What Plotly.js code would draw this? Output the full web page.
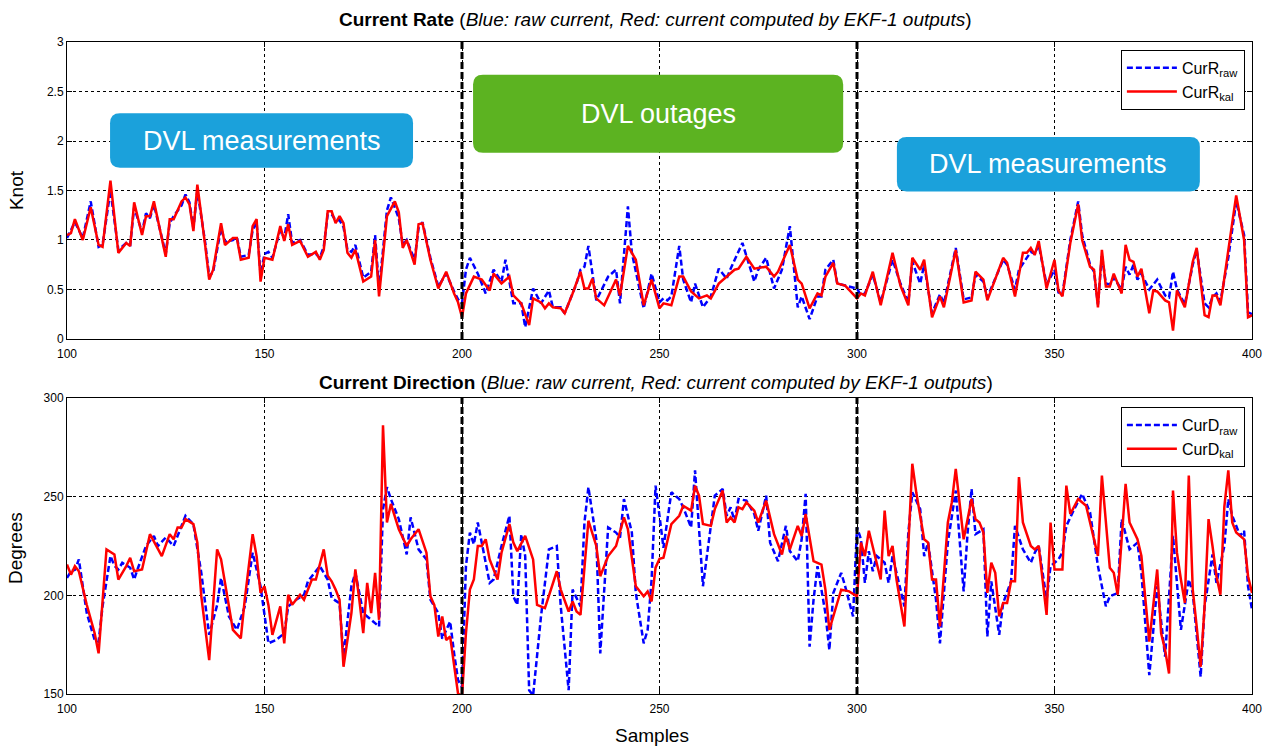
<!DOCTYPE html>
<html>
<head>
<meta charset="utf-8">
<script src="https://cdn.plot.ly/plotly-3.0.1.min.js"></script>
<style>html,body{margin:0;padding:0;background:#fff}#chart{width:1284px;height:747px}</style>
</head>
<body>
<div id="chart"></div>
<script>
// ---------- Current Rate (Knot) ----------
const rateKalX = [100,101,102,104,106,108,109,111,113,115,116,117,119,120,121,122,125,126,127,129,130,131,132,133,135,136,137,139,140,142,143,144,146,147,148,149,150,152,154,155,156,157,159,161,163,164,165,166,167,168,169,170,171,172,173,175,177,178,179,181,183,184,185,186,188,189,190,192,194,196,198,199,200,201,203,205,207,208,210,212,213,215,217,218,220,221,222,223,225,226,228,230,231,232,233,234,236,239,240,242,244,246,248,250,251,253,255,256,258,260,262,263,265,267,269,270,272,274,277,279,280,283,285,286,288,290,291,292,294,295,297,300,301,302,304,306,309,311,313,314,316,317,319,321,322,325,327,329,330,332,333,337,338,340,342,343,344,345,346,348,350,351,352,354,356,357,359,360,361,362,363,364,365,367,368,369,370,371,372,374,375,376,378,379,380,381,383,385,386,388,389,390,391,392,394,396,398,399,400];
const rateKal = [1.05,1.07,1.21,1.0,1.33,0.95,0.93,1.6,0.87,0.97,0.94,1.38,1.05,1.24,1.24,1.39,0.83,1.21,1.21,1.39,1.43,1.36,1.09,1.56,0.94,0.6,0.7,1.17,0.95,1.02,1.02,0.8,0.82,1.14,1.21,0.58,0.82,0.8,1.14,0.99,1.16,0.95,0.99,0.83,0.88,0.8,0.9,1.29,1.29,1.17,1.24,1.17,0.87,0.82,0.9,0.58,0.63,1.0,0.43,1.24,1.39,1.28,0.92,1.0,0.75,1.16,1.17,0.8,0.51,0.68,0.46,0.37,0.22,0.46,0.63,0.6,0.49,0.66,0.56,0.63,0.44,0.36,0.14,0.41,0.37,0.31,0.36,0.32,0.31,0.26,0.46,0.68,0.51,0.51,0.61,0.41,0.34,0.6,0.44,0.94,0.8,0.34,0.6,0.31,0.36,0.34,0.63,0.63,0.48,0.41,0.44,0.41,0.56,0.63,0.7,0.71,0.83,0.71,0.73,0.63,0.68,0.95,0.6,0.56,0.31,0.46,0.44,0.63,0.77,0.56,0.54,0.41,0.46,0.44,0.68,0.34,0.87,0.54,0.34,0.82,0.7,0.8,0.22,0.43,0.32,0.9,0.37,0.39,0.68,0.6,0.39,0.82,0.77,0.43,0.87,0.87,0.92,0.85,0.99,0.51,0.8,0.49,0.43,0.97,1.36,1.0,0.73,0.7,0.32,0.9,0.53,0.53,0.66,0.46,0.95,0.8,0.78,0.63,0.71,0.26,0.49,0.48,0.39,0.37,0.085,0.49,0.32,0.78,0.92,0.24,0.22,0.44,0.44,0.34,0.87,1.45,1.0,0.22,0.24];

const rateRawX = [100,101,102,104,106,108,109,111,113,115,116,117,119,120,121,122,125,126,127,129,130,131,132,133,135,136,137,139,140,142,143,144,146,147,148,149,150,151,152,154,155,156,157,159,161,163,164,165,166,167,168,169,170,171,172,173,175,177,178,179,181,182,184,185,186,188,189,190,192,194,196,198,199,200,201,202,204,206,208,210,211,213,215,216,218,220,222,223,225,226,229,230,231,232,234,237,239,240,242,243,246,248,250,251,252,253,255,256,258,259,261,263,265,267,268,271,274,275,277,279,281,283,285,286,288,290,291,292,294,295,297,300,301,302,304,306,309,311,313,314,316,317,319,321,322,325,327,329,330,332,333,337,338,340,341,342,343,344,345,346,348,350,351,352,354,356,357,359,360,361,362,363,364,365,367,368,369,370,371,372,374,375,376,378,379,380,381,383,385,386,388,389,390,391,392,394,396,398,399,400];
const rateRaw = [1.02,1.1,1.18,1.02,1.39,0.93,0.95,1.5,0.9,0.97,0.95,1.33,1.08,1.27,1.22,1.36,0.86,1.17,1.24,1.35,1.46,1.38,1.12,1.5,0.97,0.63,0.68,1.12,0.98,1.0,1.03,0.83,0.85,1.1,1.18,0.65,0.86,0.88,0.82,1.1,1.02,1.26,0.97,1.0,0.85,0.86,0.82,0.93,1.26,1.26,1.2,1.2,1.13,0.9,0.88,0.95,0.62,0.68,1.05,0.5,1.3,1.43,1.22,0.95,1.0,0.8,1.12,1.18,0.82,0.53,0.66,0.48,0.4,0.36,0.7,0.82,0.66,0.46,0.7,0.58,0.8,0.36,0.36,0.12,0.51,0.36,0.49,0.32,0.32,0.26,0.56,0.7,0.73,0.94,0.39,0.63,0.7,0.36,1.34,0.87,0.31,0.66,0.37,0.41,0.39,0.43,0.94,0.6,0.37,0.56,0.32,0.43,0.71,0.61,0.71,0.97,0.58,0.7,0.82,0.51,0.7,1.14,0.32,0.43,0.2,0.43,0.43,0.7,0.8,0.56,0.54,0.51,0.44,0.46,0.65,0.37,0.8,0.56,0.37,0.78,0.56,0.75,0.26,0.45,0.36,0.92,0.4,0.42,0.65,0.58,0.42,0.8,0.75,0.5,0.7,0.76,0.82,0.88,0.86,0.95,0.55,0.7,0.47,0.45,1.0,1.39,1.05,0.75,0.68,0.35,0.85,0.56,0.55,0.62,0.5,0.73,0.65,0.75,0.6,0.66,0.5,0.55,0.6,0.44,0.42,0.68,0.5,0.35,0.75,0.9,0.36,0.32,0.42,0.46,0.38,0.82,1.39,1.05,0.27,0.25];

// ---------- Current Direction (Degrees) ----------
const dirKalX = [100,101,102,103,105,107,108,109,110,112,113,115,116,117,119,121,123,124,126,127,128,129,130,132,133,134,136,138,139,141,142,144,145,147,148,149,150,151,152,154,155,156,157,159,160,162,163,165,166,167,168,169,170,172,173,174,175,176,177,178,179,180,181,182,184,186,187,189,191,192,193,194,195,196,197,199,200,201,202,203,204,205,206,207,209,210,212,213,214,216,218,219,221,224,225,227,228,229,230,232,234,235,237,239,241,242,244,246,247,248,249,250,251,253,255,256,258,259,260,261,263,264,266,267,268,269,270,271,272,274,275,277,279,281,282,283,285,286,287,289,291,292,293,295,296,298,300,301,302,303,305,306,307,308,309,310,312,313,314,315,317,318,319,320,321,323,324,325,327,329,330,331,332,333,334,335,336,337,338,339,340,341,342,344,345,346,348,349,350,352,353,354,356,358,359,361,362,364,365,366,367,368,369,371,372,373,374,376,377,378,379,380,381,382,383,384,385,386,387,388,389,390,391,392,393,394,395,396,398,399,400];
const dirKal = [215.6,210.5,214.8,212.2,195.2,180.8,170.6,196.1,223.3,220.7,208,214.8,219,212.2,213.1,231,223.3,219.9,231,228.4,234.4,234.4,238.6,236.1,226.7,199.5,167.2,223.3,218.2,194.4,182.5,178.2,197.8,231,219.9,201.2,204.6,195,180,194.4,175.7,200.3,195.2,200.3,197.8,208,208,223.3,210,207.1,202.9,197.8,163.8,191,213.1,197.8,180.8,206.3,191,211.4,187.6,286.2,236.9,246.3,233.5,225,228.4,233.5,221.6,199.5,195,179.1,189.3,177.4,179.1,150.2,149,180.8,202.9,208,225,225,228.4,218.2,208,221.6,236.1,226.7,222.4,230.1,218.2,195.2,193.5,212.2,202.9,191.8,196.9,191.8,190.1,237.8,225,209.7,219.9,225,239.5,233.5,204.6,199.5,202,196.9,214,218.5,219,236.1,240.3,245.4,242.9,255.6,250.5,236.1,235.2,243.7,253.1,236.9,239.5,236.9,244.6,243.7,247.1,242.9,236.9,248,231,220.7,230.1,223.3,235.2,230.1,241.2,217.3,215.6,202.9,182.5,196.1,202.9,202,199.5,226.7,219.9,232.7,216.5,208,242.9,219.9,225,208,184.2,228.4,266.7,252.2,228.4,226.7,208,208,184.2,236.9,247.1,264.1,228.4,248.8,238.6,236.9,231.8,201.2,216.5,211.4,189.3,196.1,196.1,207.1,207.1,259.9,236.9,225,223.3,225,190.1,236.9,213.1,213.1,255.6,241.2,248.8,245.4,236.9,219.9,260.7,214,211.4,200.3,228.4,256.5,236.9,228.4,219.9,196.1,176.5,213.1,180.8,172.3,160.4,253.1,221.6,208,196.1,260.7,202.9,184.2,163.8,194.4,238.6,225,209.7,200.3,245,263.3,236.9,231.8,228.4,209.7,201.2];

const dirRawX = [100,101,102,103,105,107,108,109,111,112,113,114,116,117,118,120,122,123,125,127,130,132,134,136,138,139,141,143,145,147,149,151,153,155,156,158,160,161,164,166,167,169,170,172,173,175,176,178,179,180,181,182,184,186,187,189,191,192,194,195,197,198,199,200,201,202,203,204,205,207,208,210,212,213,214,215,216,217,218,220,222,224,225,227,228,230,231,232,234,235,237,239,240,241,243,244,246,247,248,249,250,251,253,255,256,258,259,260,261,263,264,266,267,268,269,270,272,274,275,277,278,280,282,283,285,286,287,288,289,290,292,293,294,296,297,299,300,301,302,303,304,305,307,308,309,312,313,314,316,317,318,320,321,323,325,327,328,329,330,332,333,334,336,337,339,340,342,344,345,346,348,349,351,352,353,355,357,359,361,363,364,366,367,369,371,372,374,376,378,380,382,384,385,387,388,390,391,393,394,395,397,398,399,400];
const dirRaw = [208.8,212.2,213,218.2,191,177.4,176.5,194.4,219.9,215,213.1,216.5,214,208,214,225,230.1,225,229.3,225,240.3,236,211.4,180,195,208.8,189.3,182.5,194.4,221.6,204.6,175.7,177.4,180.8,194.4,197.8,200.3,207.1,214.8,208,198.6,196,168.9,204.6,211.4,191,189.3,185.9,184.2,243.7,254.8,248.8,238.6,220.7,239.5,223.3,218.2,197.8,191,178,186.7,170.6,157,153.6,214.8,231.8,225.9,236.9,226.7,206.3,208,225,240.3,199.5,195.2,230.9,219.9,151.9,149.3,189.3,223.3,225,194.4,151.9,202.9,194.4,236.9,254.8,228.4,170.6,234.4,231.8,229.3,248.8,231.8,201.2,175.7,182.5,208,255.6,240.3,224.1,252.2,248.8,244.6,234.4,263.3,235.2,204.6,235.2,250.5,253.9,240.3,244.6,237.8,248.8,248,241.2,232.7,250.5,226.7,217.3,235.2,222.4,217.3,228.4,251.4,174,197.8,214.8,190.9,172.3,201.2,211.4,204.6,189.3,234.4,228.4,206.3,222.4,212.2,219.9,216.5,206.3,219.9,194.4,231.8,252.2,243.7,219.9,226.7,197.8,175.7,226.7,253.1,202,231.8,253.9,231,233.5,179.1,207.1,180,196.1,207.1,235.2,223.3,216.5,221.6,225,197.8,214.8,218.2,221.6,235.2,243.7,251.4,242,214.8,194.4,199.5,201.2,238.6,223.3,226.7,211.4,159.5,204.6,168.9,230.1,182.5,208,201.2,158.7,194.4,220.7,206.3,225,248.8,240.3,230.1,232.7,204.6,192.7];

const xTicks = [100,150,200,250,300,350,400];
const rateTicks = [0,0.5,1,1.5,2,2.5,3];
const dirTicks = [150,200,250,300];
const outageBounds = [200,300];
const boxLabels = ['DVL measurements','DVL outages','DVL measurements'];

const FONT = 'Liberation Sans, Arial, sans-serif';
const BLUE = '#0000ff', RED = '#ff0000';

const traces = [
  {x: rateRawX, y: rateRaw, xaxis:'x', yaxis:'y', type:'scatter', mode:'lines', name:'CurR<sub>raw</sub>',
   line:{color:BLUE, width:2.5, dash:'6px,3px'}, legend:'legend'},
  {x: rateKalX, y: rateKal, xaxis:'x', yaxis:'y', type:'scatter', mode:'lines', name:'CurR<sub>kal</sub>',
   line:{color:RED, width:2.5}, legend:'legend'},
  {x: dirRawX, y: dirRaw, xaxis:'x2', yaxis:'y2', type:'scatter', mode:'lines', name:'CurD<sub>raw</sub>',
   line:{color:BLUE, width:2.5, dash:'6px,3px'}, legend:'legend2'},
  {x: dirKalX, y: dirKal, xaxis:'x2', yaxis:'y2', type:'scatter', mode:'lines', name:'CurD<sub>kal</sub>',
   line:{color:RED, width:2.5}, legend:'legend2'}
];

function axisBase(){
  return {showline:true, linecolor:'#000', linewidth:1, mirror:'ticks', ticks:'inside', ticklen:5, tickcolor:'#000',
    showgrid:true, gridcolor:'#000', gridwidth:1, griddash:'3px,3px', zeroline:false,
    tickfont:{family:FONT, size:12, color:'#000'}};
}

// rounded boxes (layout geometry)
function rounded(x0,x1,y0,y1,rx,ry){
  return `M ${x0+rx},${y0} L ${x1-rx},${y0} Q ${x1},${y0} ${x1},${y0+ry} L ${x1},${y1-ry} Q ${x1},${y1} ${x1-rx},${y1} `+
         `L ${x0+rx},${y1} Q ${x0},${y1} ${x0},${y1-ry} L ${x0},${y0+ry} Q ${x0},${y0} ${x0+rx},${y0} Z`;
}
const boxes = [
  {x0:110.9, x1:187.6, y0:1.73, y1:2.28, color:'#1ba1db', label:boxLabels[0]},
  {x0:202.8, x1:296.5, y0:1.88, y1:2.67, color:'#5cb321', label:boxLabels[1]},
  {x0:310.1, x1:386.8, y0:1.49, y1:2.04, color:'#1ba1db', label:boxLabels[2]}
];
const rx = 2.5, ry = 0.1;

const shapes = [];
outageBounds.forEach(v => {
  shapes.push({type:'line', xref:'x', yref:'y domain', x0:v, x1:v, y0:0, y1:1, line:{color:'#000', width:3, dash:'7px,3px'}, layer:'above'});
  shapes.push({type:'line', xref:'x2', yref:'y2 domain', x0:v, x1:v, y0:0, y1:1, line:{color:'#000', width:3, dash:'7px,3px'}, layer:'above'});
});
boxes.forEach(b => shapes.push({type:'path', xref:'x', yref:'y', path:rounded(b.x0,b.x1,b.y0,b.y1,rx,ry), fillcolor:b.color, line:{width:0}, layer:'above'}));

const annotations = [
  {xref:'paper', yref:'paper', x:0.497, y:1.034, showarrow:false, xanchor:'center', yanchor:'middle',
   text:'<b>Current Rate</b> (<i>Blue: raw current, Red: current computed by EKF-1 outputs</i>)', font:{family:FONT, size:19, color:'#000'}},
  {xref:'paper', yref:'paper', x:0.497, y:0.477, showarrow:false, xanchor:'center', yanchor:'middle',
   text:'<b>Current Direction</b> (<i>Blue: raw current, Red: current computed by EKF-1 outputs</i>)', font:{family:FONT, size:19, color:'#000'}},
  {xref:'paper', yref:'paper', x:-0.043, y:0.773, showarrow:false, textangle:-90, xanchor:'center', yanchor:'middle',
   text:'Knot', font:{family:FONT, size:19, color:'#000'}},
  {xref:'paper', yref:'paper', x:-0.043, y:0.224, showarrow:false, textangle:-90, xanchor:'center', yanchor:'middle',
   text:'Degrees', font:{family:FONT, size:19, color:'#000'}},
  {xref:'paper', yref:'paper', x:0.494, y:-0.063, showarrow:false, xanchor:'center', yanchor:'middle',
   text:'Samples', font:{family:FONT, size:19, color:'#000'}}
];
boxes.forEach(b => annotations.push({xref:'x', yref:'y', x:(b.x0+b.x1)/2, y:(b.y0+b.y1)/2, showarrow:false,
  text:b.label, font:{family:FONT, size:27, color:'#fff'}}));

const legendStyle = {bgcolor:'#fff', bordercolor:'#000', borderwidth:1, font:{family:FONT, size:16, color:'#000'},
  xanchor:'right', yanchor:'top', tracegroupgap:0, itemwidth:50};

const layout = {
  width:1284, height:747,
  margin:{l:67, r:32, t:42, b:53},
  paper_bgcolor:'#fff', plot_bgcolor:'#fff',
  showlegend:true,
  legend: Object.assign({x:0.994, y:0.988}, legendStyle),
  legend2: Object.assign({x:0.994, y:0.44}, legendStyle),
  xaxis: Object.assign(axisBase(), {domain:[0,1], anchor:'y', range:[100,400], tickvals:xTicks, ticklabelstandoff:4}),
  yaxis: Object.assign(axisBase(), {domain:[0.5445,1], anchor:'x', range:[0,3], tickvals:rateTicks}),
  xaxis2: Object.assign(axisBase(), {domain:[0,1], anchor:'y2', range:[100,400], tickvals:xTicks, ticklabelstandoff:4}),
  yaxis2: Object.assign(axisBase(), {domain:[0,0.454], anchor:'x2', range:[150,300], tickvals:dirTicks}),
  shapes: shapes,
  annotations: annotations
};

Plotly.newPlot('chart', traces, layout, {displayModeBar:false, staticPlot:true});
</script>
</body>
</html>
